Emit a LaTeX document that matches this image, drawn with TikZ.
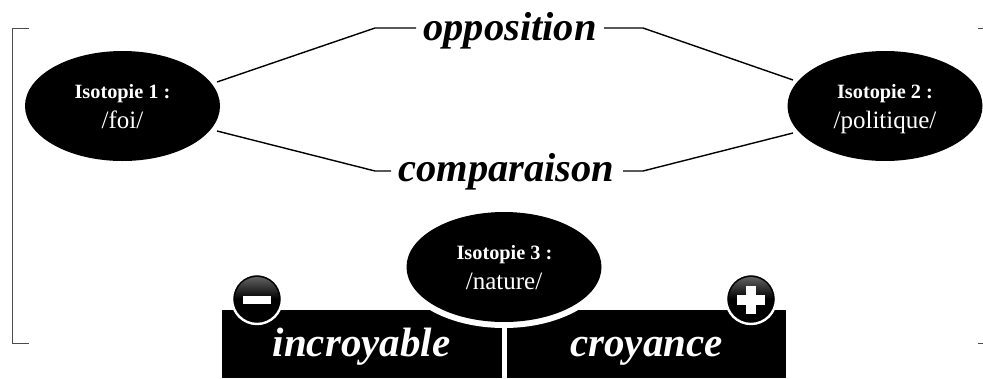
\documentclass[tikz,border=0pt]{standalone}
\usepackage{fontspec}
\setmainfont{Liberation Serif}
\usetikzlibrary{shapes.geometric}
\definecolor{framegray}{gray}{0.3}
\tikzset{
  x=1pt,y=-1pt,
  isonode/.style={ellipse,fill=black,text=white,inner sep=0pt,minimum width=195pt,minimum height=110pt,align=center},
  linktext/.style={font=\fontsize{40.5}{40}\selectfont\bfseries\itshape,inner sep=0pt,anchor=base},
  polartext/.style={font=\fontsize{41}{42}\selectfont\bfseries\itshape,text=white,inner sep=0pt,anchor=base},
  linkline/.style={line width=1.4pt,black},
  framemark/.style={line width=0.9pt,framegray},
  signdisc/.style={circle,draw=white,fill=black,line width=2.4pt,minimum size=50pt,inner sep=0pt},
  signshade/.style={circle,minimum size=44pt,inner sep=0pt,top color=black!62,bottom color=black,middle color=black},
  isohead/.style={font=\fontsize{20.3}{20}\selectfont\bfseries},
  isoname/.style={font=\fontsize{25}{26}\selectfont},
}
\begin{document}
\begin{tikzpicture}
\useasboundingbox (0,0) rectangle (983,378);
% frame marks
\draw[framemark] (29,28) -- (12,28) -- (12,343) -- (29,343);
\draw[framemark] (978,28) -- (983,28);
\draw[framemark] (978,343) -- (983,343);
% bottom band
\fill[black] (222,310) rectangle (786,378);
\draw[white,line width=5pt] (504,310) -- (504,378);
% ellipses
\node[isonode] (iso1) at (122.5,106) {};
\node[isonode] (iso2) at (885,106) {};
\node[ellipse,fill=white,inner sep=0pt,minimum width=209pt,minimum height=122pt] (ring) at (504,267) {};
\node[isonode] (iso3) at (504,267) {};
\node[isohead,text=white,anchor=base] (h1) at (122.5,98) {Isotopie 1 :};
\node[isoname,text=white,anchor=base] (n1) at (122.5,128) {/foi/};
\node[isohead,text=white,anchor=base] (h2) at (885,98) {Isotopie 2 :};
\node[isoname,text=white,anchor=base] (n2) at (885,128) {/politique/};
\node[isohead,text=white,anchor=base] (h3) at (504.5,259) {Isotopie 3 :};
\node[isoname,text=white,anchor=base] (n3) at (504,289) {/nature/};
% link labels
\node[linktext] (opp) at (510,40) {opposition};
\node[linktext] (cmp) at (506.5,181) {comparaison};
\coordinate (o1) at (217,82);
\coordinate (o2) at (375,28);
\coordinate (o3) at (416,28);
\coordinate (o4) at (604,28);
\coordinate (o5) at (643,28);
\coordinate (o6) at (793,80);
\coordinate (c1) at (217,131);
\coordinate (c2) at (375,171);
\coordinate (c3) at (391,171);
\coordinate (c4) at (623,171);
\coordinate (c5) at (643,171);
\coordinate (c6) at (793,133);
\draw[linkline] (o1) -- (o2) -- (o3);
\draw[linkline] (o4) -- (o5) -- (o6);
\draw[linkline] (c1) -- (c2) -- (c3);
\draw[linkline] (c4) -- (c5) -- (c6);
% polar labels
\node[polartext] (inc) at (361.5,356) {incroyable};
\node[polartext] (cro) at (646.5,356) {croyance};
% signs
\node[signdisc] (minus) at (257,299) {};
\node[signdisc] (plus) at (751,299) {};
\node[signshade] (minusin) at (257,299) {};
\node[signshade] (plusin) at (751,299) {};
\fill[white] (243,296) rectangle (271,304);
\fill[white] (737,295) rectangle (765,304.5);
\fill[white] (746,286) rectangle (755.5,314);
\end{tikzpicture}
\end{document}
